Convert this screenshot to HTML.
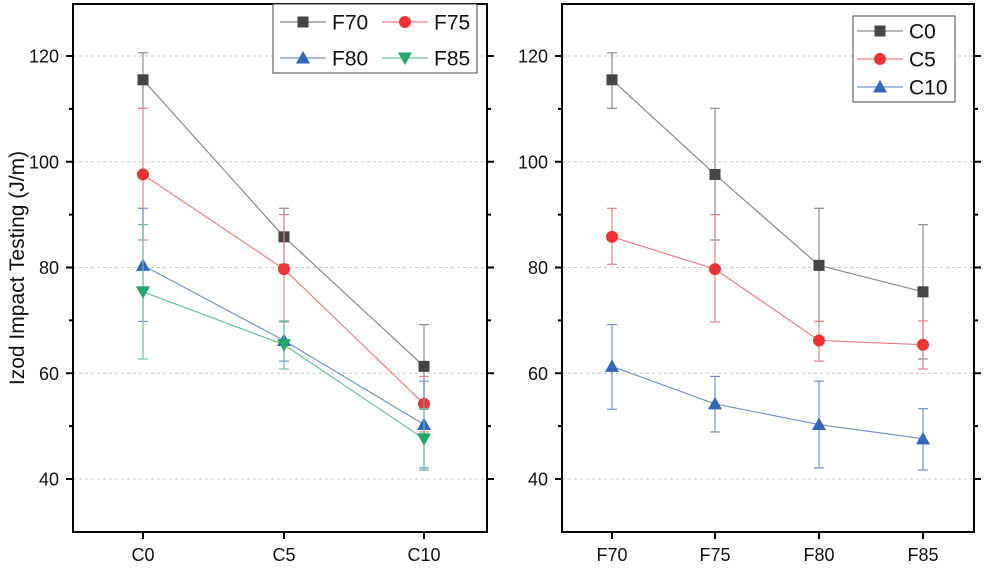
<!DOCTYPE html>
<html><head><meta charset="utf-8"><style>
body{margin:0;background:#fff;width:986px;height:564px;overflow:hidden}
svg{font-family:"Liberation Sans",Arial,sans-serif}
</style></head><body>
<svg id="chart" width="986" height="564" viewBox="0 0 986 564"></svg>
<script>
const fillers = ["F70","F75","F80","F85"];
const contents = ["C0","C5","C10"];
const meanC0 = [115.5, 97.6, 80.4, 75.4];
const meanC5 = [85.8, 79.7, 66.2, 65.4];
const meanC10 = [61.3, 54.2, 50.3, 47.6];
const hiC0 = [120.6, 110.1, 91.2, 88.1];
const loC0 = [110.1, 85.2, 69.8, 62.7];
const hiC5 = [91.2, 90.0, 69.8, 69.9];
const loC5 = [80.6, 69.7, 62.3, 60.8];
const hiC10 = [69.2, 59.4, 58.5, 53.3];
const loC10 = [53.2, 48.9, 42.1, 41.7];
const yTicks = [40, 60, 80, 100, 120];

const NS="http://www.w3.org/2000/svg";
const svg=document.getElementById('chart');
function mk(tag,at,parent){const e=document.createElementNS(NS,tag);for(const k in at)e.setAttribute(k,at[k]);(parent||svg).appendChild(e);return e;}
const colors={sq:"#454545",ci:"#ee3333",up:"#3366bb",dn:"#22a66a"};
const errColors={sq:"#8a8a8a",ci:"#ee8080",up:"#6f95cf",dn:"#6cc29c"};
function yS(v){return 479-(v-40)*423/80;}
function marker(g,type,x,y){
  if(type==="sq")return mk('rect',{x:x-5.5,y:y-5.5,width:11,height:11,fill:colors.sq},g);
  if(type==="ci")return mk('circle',{cx:x,cy:y,r:6,fill:colors.ci},g);
  if(type==="up")return mk('polygon',{points:`${x},${y-7} ${x+7},${y+5.5} ${x-7},${y+5.5}`,fill:colors.up},g);
  return mk('polygon',{points:`${x},${y+7} ${x+7},${y-5.5} ${x-7},${y-5.5}`,fill:colors.dn},g);
}
function panel(name,L,R,T,B,cats,xs,series,legend){
  const g=mk('g',{});
  
  
  yTicks.forEach(v=>{
    const y=yS(v);
    const gl=mk('line',{x1:L,x2:R,y1:y,y2:y,stroke:"#c8c8c8","stroke-dasharray":"3,3","stroke-width":1},g);
    
    
    mk('line',{x1:L-7,x2:L,y1:y,y2:y,stroke:"#000","stroke-width":2},g);
    mk('line',{x1:R,x2:R+7,y1:y,y2:y,stroke:"#000","stroke-width":2},g);
    const t=mk('text',{x:L-14,y:y+6.5,"text-anchor":"end","font-size":18,fill:"#111"},g);
    t.textContent=v;
    
    
  });
  [50,70,90,110].forEach(v=>{const y=yS(v);
    mk('line',{x1:L-4,x2:L,y1:y,y2:y,stroke:"#000","stroke-width":2},g);
    mk('line',{x1:R,x2:R+4,y1:y,y2:y,stroke:"#000","stroke-width":2},g);});
  mk('rect',{x:L,y:T,width:R-L,height:B-T,fill:"none",stroke:"#000","stroke-width":2},g);
  cats.forEach((c,i)=>{
    mk('line',{x1:xs[i],x2:xs[i],y1:B,y2:B+7,stroke:"#000","stroke-width":2},g);
    const t=mk('text',{x:xs[i],y:B+29,"text-anchor":"middle","font-size":18,fill:"#111"},g);
    t.textContent=c;
    
    
  });
  series.forEach(s=>{
    const sg=mk('g',{},g);
    
    
    s.m.forEach((v,i)=>{
      const x=xs[i];
      mk('line',{x1:x,x2:x,y1:yS(s.hi[i]),y2:yS(s.lo[i]),stroke:errColors[s.t],"stroke-width":1.2},sg);
      mk('line',{x1:x-5,x2:x+5,y1:yS(s.hi[i]),y2:yS(s.hi[i]),stroke:errColors[s.t],"stroke-width":1.2},sg);
      mk('line',{x1:x-5,x2:x+5,y1:yS(s.lo[i]),y2:yS(s.lo[i]),stroke:errColors[s.t],"stroke-width":1.2},sg);
    });
    mk('polyline',{points:s.m.map((v,i)=>xs[i]+","+yS(v)).join(" "),fill:"none",stroke:errColors[s.t],"stroke-width":1.2},sg);
    s.m.forEach((v,i)=>{const p=marker(sg,s.t,xs[i],yS(v));
      
      });
  });
  const lg=mk('g',{},g);
  
  
  mk('rect',{x:legend.x,y:legend.y,width:legend.w,height:legend.h,fill:"#fff",stroke:"#444","stroke-width":1},lg);
  legend.items.forEach(it=>{
    mk('line',{x1:it.x,x2:it.x+46,y1:it.y,y2:it.y,stroke:errColors[it.t],"stroke-width":1.2},lg);
    marker(lg,it.t,it.x+23,it.y);
    const t=mk('text',{x:it.x+52,y:it.y+7.5,"font-size":21,fill:"#111"},lg);
    t.textContent=it.n;
    
    
  });
}
const leftSeries=fillers.map((f,j)=>({name:f,t:["sq","ci","up","dn"][j],
  m:[meanC0[j],meanC5[j],meanC10[j]],hi:[hiC0[j],hiC5[j],hiC10[j]],lo:[loC0[j],loC5[j],loC10[j]]}));
panel('left-panel',73,487,4,532,contents,[143,284,424],leftSeries,
 {x:273,y:4,w:204,h:69,items:[{n:"F70",t:"sq",x:280,y:22},{n:"F75",t:"ci",x:382,y:22},{n:"F80",t:"up",x:280,y:58},{n:"F85",t:"dn",x:382,y:58}]});
panel('right-panel',562,974,4,532,fillers,[612,715,819,923],[
 {name:"C0",t:"sq",m:meanC0,hi:hiC0,lo:loC0},
 {name:"C5",t:"ci",m:meanC5,hi:hiC5,lo:loC5},
 {name:"C10",t:"up",m:meanC10,hi:hiC10,lo:loC10}],
 {x:853,y:16,w:102,h:86,items:[{n:"C0",t:"sq",x:857,y:31},{n:"C5",t:"ci",x:857,y:59},{n:"C10",t:"up",x:857,y:87}]});
const yt=mk('text',{x:0,y:0,transform:"translate(24,268) rotate(-90)","text-anchor":"middle","font-size":21,fill:"#111"});
yt.textContent="Izod Impact Testing (J/m)";


</script>
</body></html>
